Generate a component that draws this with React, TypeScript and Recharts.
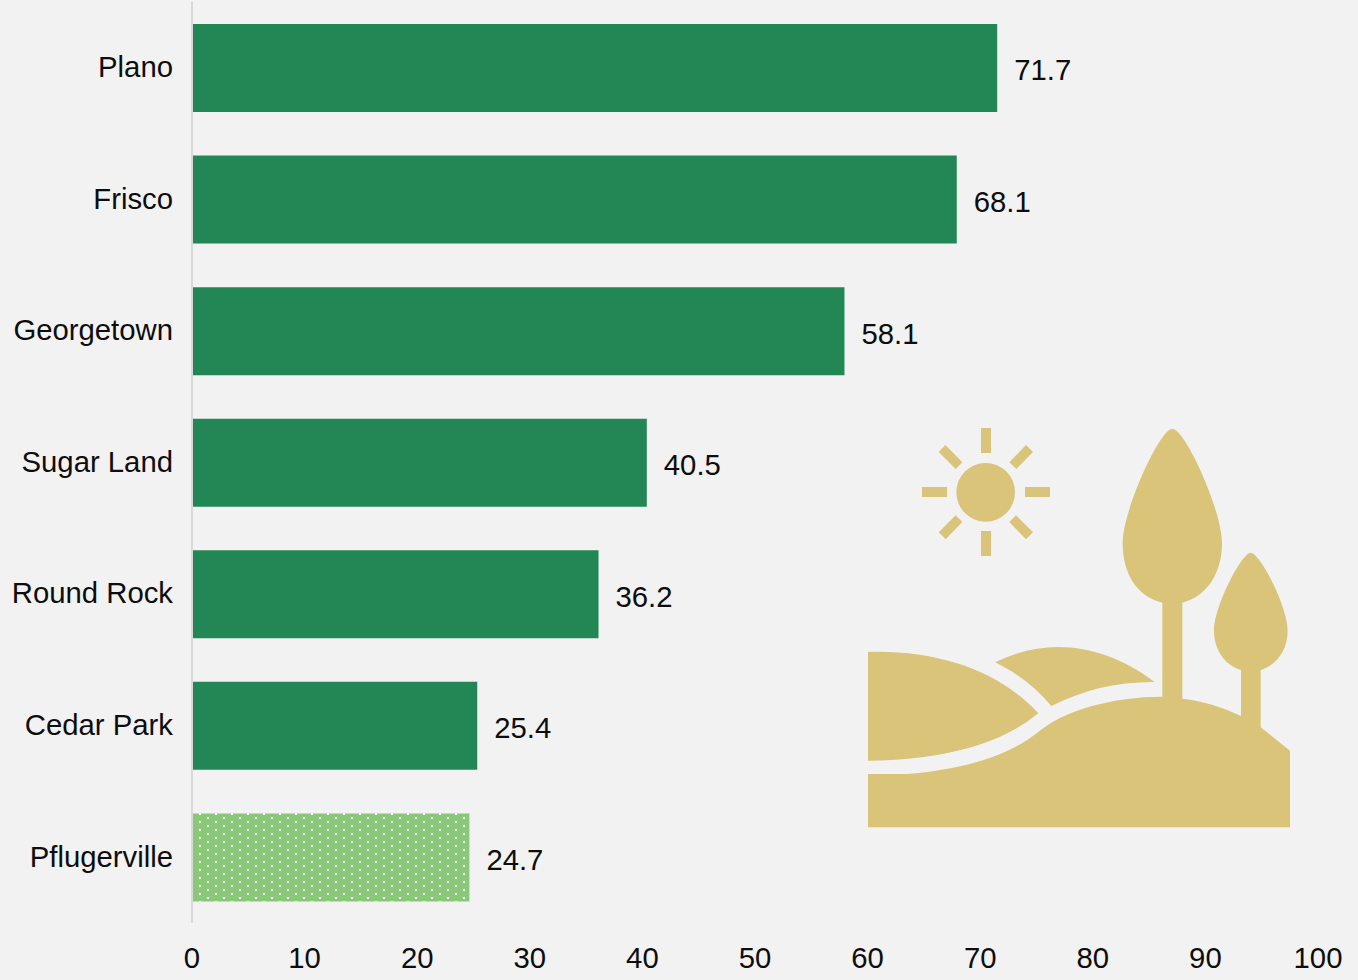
import { Bar, BarChart, Cell, LabelList, XAxis, YAxis } from "recharts";

const cities = ["Plano", "Frisco", "Georgetown", "Sugar Land", "Round Rock", "Cedar Park", "Pflugerville"];
const values = [71.7, 68.1, 58.1, 40.5, 36.2, 25.4, 24.7];
const xTicks = [0, 10, 20, 30, 40, 50, 60, 70, 80, 90, 100];

const rows = cities.map((city, i) => ({ city, value: values[i] }));

const FONT = '"Liberation Sans", Arial, sans-serif';
const TEXT = "#0d0d0d";
const GREEN = "#228754";
const SAND = "#d9c47a";

// the reference's tick labels sit a touch wider than its bars, about 3px by the 100 mark
function XTick({ x, y, payload }: any) {
  return (
    <text x={x + payload.value * 0.03} y={y} dy="0.71em" textAnchor="middle" fontSize={29.3} fill={TEXT}>
      {payload.value}
    </text>
  );
}

// decorative landscape, drawn on a 3x grid so it lines up with the zoomed reference
function LandscapeIcon() {
  return (
    <svg
      width={440}
      height={420}
      viewBox="0 0 1320 1260"
      style={{ position: "absolute", left: 860, top: 420 }}
    >
      <g fill={SAND}>
        <circle cx={377} cy={217} r={88} />
        <rect x={363} y={24} width={30} height={75} />
        <rect x={363} y={333} width={30} height={75} />
        <rect x={186} y={201} width={75} height={30} />
        <rect x={495} y={201} width={75} height={30} />
        <polygon points="256,75 236,96 287,147 307,127" />
        <polygon points="498,75 519,96 469,147 448,127" />
        <polygon points="287,286 307,306 257,358 236,337" />
        <polygon points="468,286 519,337 498,358 448,306" />
        <path d="M24 696 C240 690 420 755 535 880 L500 906 C390 980 230 1020 24 1022 Z" />
        <path d="M406 727 C560 650 730 670 884 786 C770 785 670 810 574 858 C530 805 475 762 406 727 Z" />
        <path d="M24 1062 L140 1062 C300 1050 440 1010 530 940 C610 870 760 830 907 830 L907 548 C830 530 788 460 788 370 C788 270 900 26 937 26 C975 26 1086 270 1086 370 C1086 460 1040 530 967 548 L967 836 C1030 843 1090 862 1143 888 L1143 750 C1095 735 1062 690 1062 632 C1062 560 1145 398 1172 398 C1200 398 1283 560 1283 632 C1283 690 1250 735 1202 750 L1202 922 L1290 992 L1290 1222 L24 1222 Z" />
      </g>
    </svg>
  );
}

export default function App() {
  return (
    <div style={{ position: "relative", width: 1358, height: 980, background: "#f2f2f2", overflow: "hidden" }}>
      <style>{"body{margin:0}"}</style>
      <BarChart
        width={1358}
        height={980}
        data={rows}
        layout="vertical"
        margin={{ top: 2, right: 43, bottom: 0, left: 0 }}
        style={{ fontFamily: FONT }}
      >
        <defs>
          <pattern id="dots" patternUnits="userSpaceOnUse" x={199} y={813} width={16} height={8}>
            <rect width={16} height={8} fill="#88c878" />
            <rect x={0} y={0} width={2} height={2} fill="#ffffff" />
            <rect x={8} y={4} width={2} height={2} fill="#ffffff" />
          </pattern>
        </defs>
        <XAxis
          type="number"
          domain={[0, 100]}
          ticks={xTicks}
          interval={0}
          height={57}
          axisLine={false}
          tickLine={false}
          tickMargin={18}
          tick={<XTick />}
        />
        <YAxis
          type="category"
          dataKey="city"
          width={192}
          interval={0}
          axisLine={{ stroke: "#d9d9d9", strokeWidth: 2 }}
          tickLine={false}
          tickMargin={13}
          tick={{ fontSize: 29.3, fill: TEXT, dy: -1 }}
        />
        <Bar dataKey="value" barSize={88} isAnimationActive={false}>
          {rows.map((row, i) => (
            <Cell key={row.city} fill={i === rows.length - 1 ? "url(#dots)" : GREEN} />
          ))}
          <LabelList dataKey="value" position="right" offset={17} dy={2} fontSize={29.3} fill={TEXT} />
        </Bar>
      </BarChart>
      <LandscapeIcon />
    </div>
  );
}
